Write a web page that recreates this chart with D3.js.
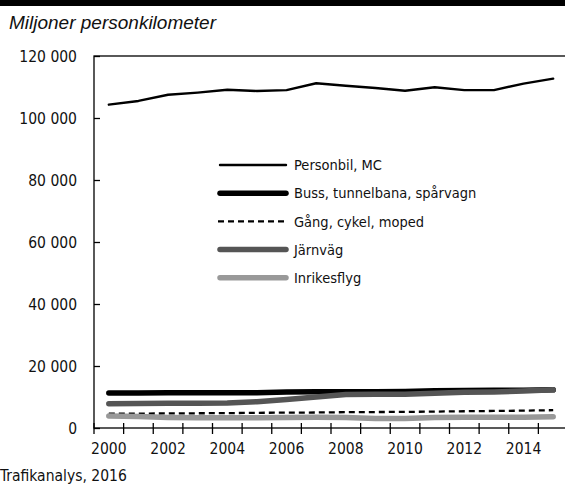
<!DOCTYPE html>
<html><head><meta charset="utf-8">
<script src="https://cdn.jsdelivr.net/npm/d3@7"></script>
<style>
html,body{margin:0;padding:0;background:#fff;}
svg{display:block;}
.cond{font-family:'Liberation Sans Narrow','DejaVu Sans Condensed','DejaVu Sans',sans-serif;font-stretch:condensed;}
</style></head>
<body>
<svg id="chart" width="565" height="486"></svg>
<script>
const years = [2000,2001,2002,2003,2004,2005,2006,2007,2008,2009,2010,2011,2012,2013,2014,2015];
const labelYears = [2000,2002,2004,2006,2008,2010,2012,2014];
const yTicks = [0,20000,40000,60000,80000,100000,120000];

const personbil = [104300,105500,107500,108200,109100,108700,109000,111200,110400,109700,108800,109900,109000,109000,111100,112700];
const buss      = [11300,11300,11400,11400,11400,11400,11600,11700,11700,11700,11800,12000,12100,12200,12200,12300];
const gang      = [4600,4650,4700,4750,4800,4900,4950,5000,5100,5150,5200,5300,5400,5500,5600,5750];
const jarnvag   = [7800,7900,8000,8000,8100,8500,9200,10000,10800,10900,10900,11200,11500,11600,11900,12300];
const flyg      = [3900,3700,3400,3300,3300,3300,3400,3500,3400,3100,3100,3400,3500,3500,3500,3600];

const seriesNames = ["Personbil, MC","Buss, tunnelbana, spårvagn","Gång, cykel, moped","Järnväg","Inrikesflyg"];
const seriesValues = [personbil, buss, gang, jarnvag, flyg];
const seriesStyle = [
  {color:"#000", width:2.4, dash:null},
  {color:"#000", width:5.5, dash:null},
  {color:"#000", width:2.3, dash:"6,4"},
  {color:"#555", width:5.5, dash:null},
  {color:"#999", width:5.5, dash:null}
];

const svg = d3.select("#chart");

// top bar
svg.append("rect").attr("x",0).attr("y",0).attr("width",565).attr("height",6).attr("fill","#000");

svg.append("text").attr("x",9).attr("y",29)
  .attr("font-family","'Liberation Sans',Arial,sans-serif").attr("font-style","italic")
  .attr("font-size",19).attr("fill","#111").text("Miljoner personkilometer");

const x = d3.scaleBand().domain(years).range([94,568]).paddingInner(0).paddingOuter(0);
const y = d3.scaleLinear().domain([0,120000]).range([428,56]);
const cx = d => x(d) + x.bandwidth()/2;

const locale = d3.formatLocale({decimal:",", thousands:" ", grouping:[3], currency:["",""]});
const fmt = locale.format(",d");

// frame
svg.append("rect").attr("x",94).attr("y",56).attr("width",474).attr("height",372)
  .attr("fill","none").attr("stroke","#000").attr("stroke-width",1.3);

// y axis
const yAxis = svg.append("g").attr("transform","translate(94,0)")
  .call(d3.axisRight(y).tickValues(yTicks).tickSize(6).tickFormat(""));
yAxis.select(".domain").remove();
yAxis.selectAll("line").attr("stroke","#000").attr("stroke-width",1.3);

svg.append("g").selectAll("text").data(yTicks).join("text")
  .attr("class","cond")
  .attr("x",77).attr("y",d=>y(d)).attr("dy","0.36em").attr("text-anchor","end")
  .attr("font-size",15.5).attr("fill","#111").text(d=>fmt(d));

// x axis
const xAxis = svg.append("g").attr("transform","translate(0,428)")
  .call(d3.axisBottom(x).tickValues(labelYears).tickSize(0).tickPadding(15));
xAxis.select(".domain").remove();
xAxis.selectAll("text").attr("class","cond").attr("font-family",null).attr("font-size",15.5).attr("fill","#111");

svg.append("g").selectAll("line").data(years).join("line")
  .attr("x1",d=>x(d)).attr("x2",d=>x(d)).attr("y1",423).attr("y2",434)
  .attr("stroke","#000").attr("stroke-width",1.3);

// lines
const order = [0,1,2,4,3];
const lineGen = vals => d3.line().x((d,i)=>cx(years[i])).y(d=>y(d))(vals);
order.forEach(k=>{
  const s = seriesStyle[k];
  svg.append("path").attr("d",lineGen(seriesValues[k]))
    .attr("fill","none").attr("stroke",s.color).attr("stroke-width",s.width)
    .attr("stroke-linecap", s.dash? "butt":"round").attr("stroke-linejoin","round")
    .attr("stroke-dasharray", s.dash);
});

// legend
const lg = svg.append("g");
seriesNames.forEach((n,i)=>{
  const yy = 165 + i*28.2;
  const s = seriesStyle[i];
  lg.append("line").attr("x1",s.dash?218:220).attr("x2",s.dash?288:286).attr("y1",yy).attr("y2",yy)
    .attr("stroke",s.color).attr("stroke-width",s.width)
    .attr("stroke-linecap", s.dash? "butt":"round").attr("stroke-dasharray",s.dash);
  lg.append("text").attr("class","cond").attr("x",294).attr("y",yy).attr("dy","0.36em")
    .attr("font-size",14.5).attr("fill","#111").text(n);
});

svg.append("text").attr("class","cond").attr("x",0).attr("y",481)
  .attr("font-size",15.5).attr("fill","#111").text("Trafikanalys, 2016");
</script>
</body></html>
